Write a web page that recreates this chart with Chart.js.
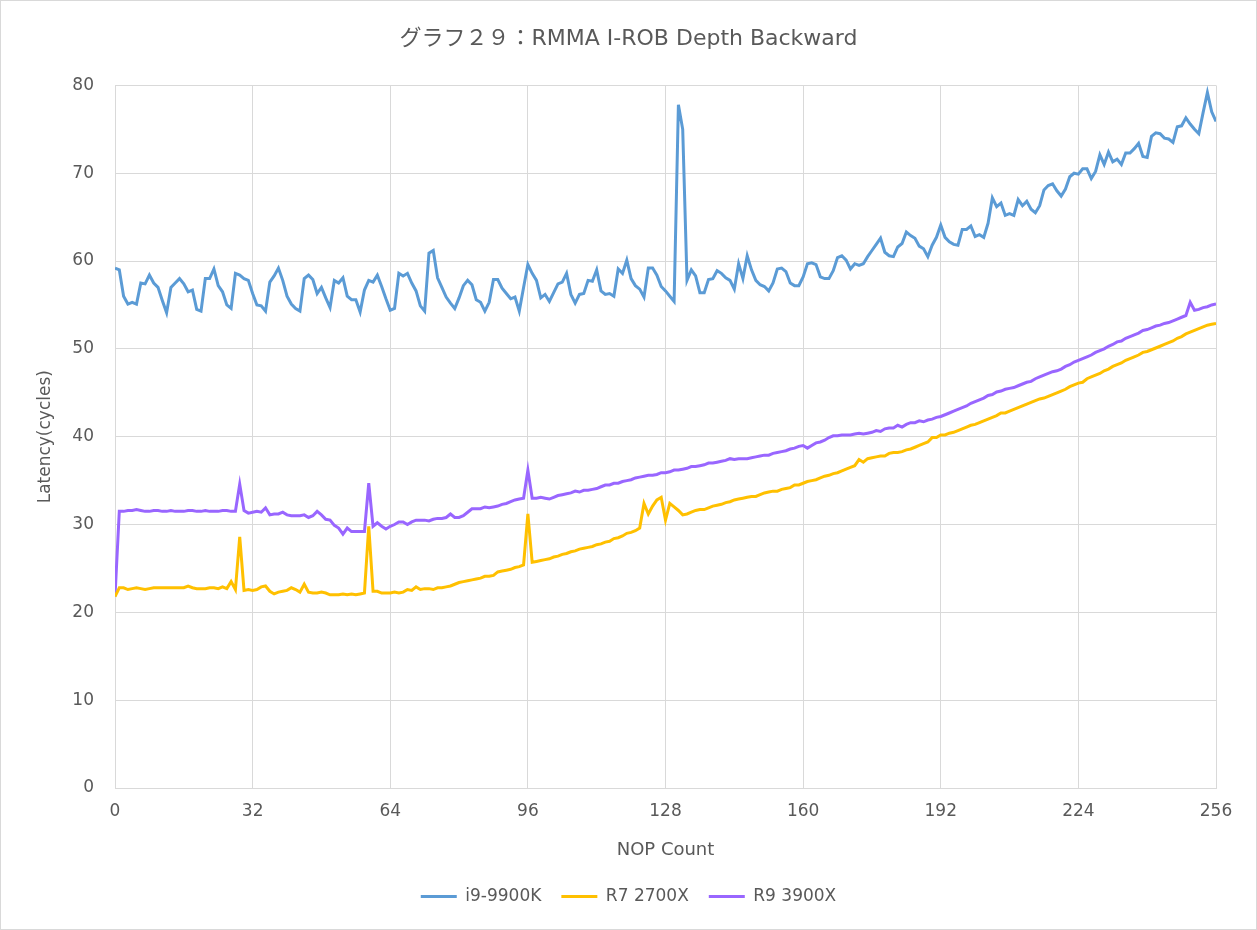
<!DOCTYPE html>
<html>
<head>
    <meta charset="utf-8">
    <title>グラフ２９</title>
    <script src="https://cdn.jsdelivr.net/npm/chart.js@4/dist/chart.umd.min.js"></script>
    <style>
        body { margin: 0; background: #fff; }
        #wrap { width: 1257px; height: 930px; box-sizing: border-box; border: 1px solid #d9d9d9; }
    </style>
</head>
<body>
<div id="wrap">
    <canvas id="canvas" width="1255" height="928"></canvas>
</div>
<script>
    // NOP count 0..256 (x categories)
    const nopCount = Array.from({ length: 257 }, (_, i) => i);
    const xTicks = [0, 32, 64, 96, 128, 160, 192, 224, 256];

    // i9-9900K
    const i9 = [
        59.2, 59.0, 56.0, 55.1, 55.3, 55.1, 57.5, 57.4,
        58.4, 57.5, 57.0, 55.5, 54.1, 57.0, 57.5, 58.0,
        57.4, 56.5, 56.7, 54.5, 54.3, 58.0, 58.0, 59.1,
        57.2, 56.5, 55.0, 54.6, 58.6, 58.4, 58.0, 57.8,
        56.3, 55.0, 54.9, 54.3, 57.6, 58.3, 59.2, 57.8,
        56.0, 55.1, 54.6, 54.3, 58.0, 58.4, 57.9, 56.3,
        57.0, 55.8, 54.7, 57.8, 57.5, 58.1, 56.0, 55.6,
        55.6, 54.2, 56.7, 57.8, 57.6, 58.4, 57.1, 55.7,
        54.4, 54.6, 58.6, 58.3, 58.6, 57.5, 56.6, 54.9,
        54.3, 60.9, 61.2, 58.1, 57.0, 55.9, 55.2, 54.6,
        55.8, 57.2, 57.8, 57.3, 55.6, 55.3, 54.3, 55.3,
        57.9, 57.9, 56.9, 56.3, 55.7, 55.9, 54.3, 57.0,
        59.6, 58.6, 57.8, 55.8, 56.2, 55.4, 56.4, 57.4,
        57.6, 58.6, 56.2, 55.2, 56.2, 56.3, 57.8, 57.7,
        59.0, 56.6, 56.2, 56.3, 56.0, 59.1, 58.6, 60.1,
        58.0, 57.2, 56.8, 55.9, 59.2, 59.2, 58.4, 57.1,
        56.6, 56.0, 55.4, 77.8, 75.0, 57.8, 59.0, 58.3,
        56.4, 56.4, 57.9, 58.0, 58.9, 58.6, 58.1, 57.8,
        56.8, 59.7, 58.0, 60.6, 59.0, 57.8, 57.3, 57.1,
        56.6, 57.5, 59.1, 59.2, 58.8, 57.5, 57.2, 57.2,
        58.2, 59.7, 59.8, 59.6, 58.2, 58.0, 58.0, 58.9,
        60.4, 60.6, 60.1, 59.1, 59.7, 59.5, 59.7, 60.5,
        61.2, 61.9, 62.6, 61.0, 60.6, 60.5, 61.6, 62.0,
        63.3, 62.9, 62.6, 61.7, 61.4, 60.5, 61.8, 62.7,
        64.1, 62.7, 62.2, 61.9, 61.8, 63.6, 63.6, 64.0,
        62.8, 63.0, 62.7, 64.3, 67.2, 66.2, 66.6, 65.2,
        65.4, 65.2, 67.0, 66.3, 66.8, 65.9, 65.5, 66.3,
        68.1, 68.6, 68.8, 68.0, 67.4, 68.2, 69.6, 70.0,
        69.9, 70.5, 70.5, 69.4, 70.2, 72.1, 71.0, 72.4,
        71.3, 71.6, 71.0, 72.3, 72.3, 72.8, 73.4, 71.9,
        71.8, 74.2, 74.6, 74.5, 74.0, 73.9, 73.5, 75.3,
        75.4, 76.3, 75.6, 75.0, 74.5, 76.9, 79.2, 77.0,
        75.9
    ];

    // R7 2700X
    const r7 = [
        21.8, 22.8, 22.8, 22.6, 22.7, 22.8, 22.7, 22.6,
        22.7, 22.8, 22.8, 22.8, 22.8, 22.8, 22.8, 22.8,
        22.8, 23.0, 22.8, 22.7, 22.7, 22.7, 22.8, 22.8,
        22.7, 22.9, 22.7, 23.5, 22.6, 28.6, 22.5, 22.6,
        22.5, 22.6, 22.9, 23.0, 22.4, 22.1, 22.3, 22.4,
        22.5, 22.8, 22.6, 22.3, 23.2, 22.3, 22.2, 22.2,
        22.3, 22.2, 22.0, 22.0, 22.0, 22.1, 22.0, 22.1,
        22.0, 22.1, 22.2, 29.8, 22.4, 22.4, 22.2, 22.2,
        22.2, 22.3, 22.2, 22.3, 22.6, 22.5, 22.9, 22.6,
        22.7, 22.7, 22.6, 22.8, 22.8, 22.9, 23.0, 23.2,
        23.4, 23.5, 23.6, 23.7, 23.8, 23.9, 24.1, 24.1,
        24.2, 24.6, 24.7, 24.8, 24.9, 25.1, 25.2, 25.4,
        31.2, 25.7, 25.8, 25.9, 26.0, 26.1, 26.3, 26.4,
        26.6, 26.7, 26.9, 27.0, 27.2, 27.3, 27.4, 27.5,
        27.7, 27.8, 28.0, 28.1, 28.4, 28.5, 28.7, 29.0,
        29.1, 29.3, 29.6, 32.4, 31.2, 32.1, 32.8, 33.1,
        30.5, 32.4, 32.0, 31.6, 31.1, 31.2, 31.4, 31.6,
        31.7, 31.7, 31.9, 32.1, 32.2, 32.3, 32.5, 32.6,
        32.8, 32.9, 33.0, 33.1, 33.2, 33.2, 33.4, 33.6,
        33.7, 33.8, 33.8, 34.0, 34.1, 34.2, 34.5, 34.5,
        34.7, 34.9, 35.0, 35.1, 35.3, 35.5, 35.6, 35.8,
        35.9, 36.1, 36.3, 36.5, 36.7, 37.4, 37.1, 37.5,
        37.6, 37.7, 37.8, 37.8, 38.1, 38.2, 38.2, 38.3,
        38.5, 38.6, 38.8, 39.0, 39.2, 39.4, 39.9, 39.9,
        40.2, 40.2, 40.4, 40.5, 40.7, 40.9, 41.1, 41.3,
        41.4, 41.6, 41.8, 42.0, 42.2, 42.4, 42.7, 42.7,
        42.9, 43.1, 43.3, 43.5, 43.7, 43.9, 44.1, 44.3,
        44.4, 44.6, 44.8, 45.0, 45.2, 45.4, 45.7, 45.9,
        46.1, 46.2, 46.6, 46.8, 47.0, 47.2, 47.5, 47.7,
        48.0, 48.2, 48.4, 48.7, 48.9, 49.1, 49.3, 49.6,
        49.7, 49.9, 50.1, 50.3, 50.5, 50.7, 50.9, 51.2,
        51.4, 51.7, 51.9, 52.1, 52.3, 52.5, 52.7, 52.8,
        52.9
    ];

    // R9 3900X
    const r9 = [
        21.8, 31.5, 31.5, 31.6, 31.6, 31.7, 31.6, 31.5,
        31.5, 31.6, 31.6, 31.5, 31.5, 31.6, 31.5, 31.5,
        31.5, 31.6, 31.6, 31.5, 31.5, 31.6, 31.5, 31.5,
        31.5, 31.6, 31.6, 31.5, 31.5, 34.6, 31.6, 31.3,
        31.4, 31.5, 31.4, 31.9, 31.1, 31.2, 31.2, 31.4,
        31.1, 31.0, 31.0, 31.0, 31.1, 30.8, 31.0, 31.5,
        31.1, 30.6, 30.5, 29.9, 29.6, 28.9, 29.6, 29.2,
        29.2, 29.2, 29.2, 34.7, 29.8, 30.2, 29.8, 29.5,
        29.8, 30.0, 30.3, 30.3, 30.0, 30.3, 30.5, 30.5,
        30.5, 30.4, 30.6, 30.7, 30.7, 30.8, 31.2, 30.8,
        30.8, 31.0, 31.4, 31.8, 31.8, 31.8, 32.0, 31.9,
        32.0, 32.1, 32.3, 32.4, 32.6, 32.8, 32.9, 33.0,
        36.2, 33.0, 33.0, 33.1, 33.0, 32.9, 33.1, 33.3,
        33.4, 33.5, 33.6, 33.8, 33.7, 33.9, 33.9, 34.0,
        34.1, 34.3, 34.5, 34.5, 34.7, 34.7, 34.9, 35.0,
        35.1, 35.3, 35.4, 35.5, 35.6, 35.6, 35.7, 35.9,
        35.9, 36.0, 36.2, 36.2, 36.3, 36.4, 36.6, 36.6,
        36.7, 36.8, 37.0, 37.0, 37.1, 37.2, 37.3, 37.5,
        37.4, 37.5, 37.5, 37.5, 37.6, 37.7, 37.8, 37.9,
        37.9, 38.1, 38.2, 38.3, 38.4, 38.6, 38.7, 38.9,
        39.0, 38.7, 39.0, 39.3, 39.4, 39.6, 39.9, 40.1,
        40.1, 40.2, 40.2, 40.2, 40.3, 40.4, 40.3, 40.4,
        40.5, 40.7, 40.6, 40.9, 41.0, 41.0, 41.3, 41.1,
        41.4, 41.6, 41.6, 41.8, 41.7, 41.9, 42.0, 42.2,
        42.3, 42.5, 42.7, 42.9, 43.1, 43.3, 43.5, 43.8,
        44.0, 44.2, 44.4, 44.7, 44.8, 45.1, 45.2, 45.4,
        45.5, 45.6, 45.8, 46.0, 46.2, 46.3, 46.6, 46.8,
        47.0, 47.2, 47.4, 47.5, 47.7, 48.0, 48.2, 48.5,
        48.7, 48.9, 49.1, 49.3, 49.6, 49.8, 50.0, 50.3,
        50.5, 50.8, 50.9, 51.2, 51.4, 51.6, 51.8, 52.1,
        52.2, 52.4, 52.6, 52.7, 52.9, 53.0, 53.2, 53.4,
        53.6, 53.8, 55.3, 54.4, 54.5, 54.7, 54.8, 55.0,
        55.1
    ];

    const textColor = '#595959';
    const gridColor = '#d9d9d9';
    Chart.defaults.font.family = '"DejaVu Sans", "Noto Sans CJK JP", sans-serif';
    Chart.defaults.color = textColor;

    function toPoints(values) {
        return values.map((v, i) => ({ x: nopCount[i], y: v }));
    }

    function makeSet(label, values, color) {
        return {
            label: label,
            data: toPoints(values),
            borderColor: color,
            backgroundColor: color,
            borderWidth: 3,
            pointRadius: 0,
            tension: 0,
            fill: false
        };
    }

    new Chart(document.getElementById('canvas'), {
        type: 'line',
        data: {
            datasets: [
                makeSet('i9-9900K', i9, '#5b9bd5'),
                makeSet('R7 2700X', r7, '#ffc000'),
                makeSet('R9 3900X', r9, '#9966ff')
            ]
        },
        options: {
            responsive: false,
            animation: false,
            layout: { padding: { left: 19, right: 19, top: 0, bottom: 14 } },
            plugins: {
                title: {
                    display: true,
                    text: 'グラフ２９：RMMA I-ROB Depth Backward',
                    color: textColor,
                    font: { size: 22, weight: 'normal' },
                    padding: { top: 25, bottom: 33 }
                },
                legend: {
                    position: 'bottom',
                    labels: {
                        color: textColor,
                        font: { size: 17 },
                        usePointStyle: true,
                        pointStyle: 'line',
                        pointStyleWidth: 36,
                        boxWidth: 36,
                        padding: 20
                    }
                },
                tooltip: { enabled: false }
            },
            scales: {
                x: {
                    type: 'linear',
                    min: 0,
                    max: 256,
                    afterBuildTicks: (scale) => { scale.ticks = xTicks.map(v => ({ value: v })); },
                    afterFit: (scale) => { scale.height = 80; scale.paddingRight = 40; },
                    grid: { color: gridColor, drawTicks: false },
                    border: { color: gridColor },
                    ticks: { color: textColor, font: { size: 17 }, padding: 13, maxRotation: 0 },
                    title: {
                        display: true,
                        text: 'NOP Count',
                        color: textColor,
                        font: { size: 18 },
                        padding: { top: 0, bottom: 7 }
                    }
                },
                y: {
                    min: 0,
                    max: 80,
                    afterFit: (scale) => { scale.width = 95; },
                    grid: { color: gridColor, drawTicks: false },
                    border: { color: gridColor },
                    ticks: { stepSize: 10, color: textColor, font: { size: 17 }, padding: 21 },
                    title: {
                        display: true,
                        text: 'Latency(cycles)',
                        color: textColor,
                        font: { size: 17 },
                        padding: { top: 15, bottom: 0 }
                    }
                }
            }
        }
    });
</script>
</body>
</html>
